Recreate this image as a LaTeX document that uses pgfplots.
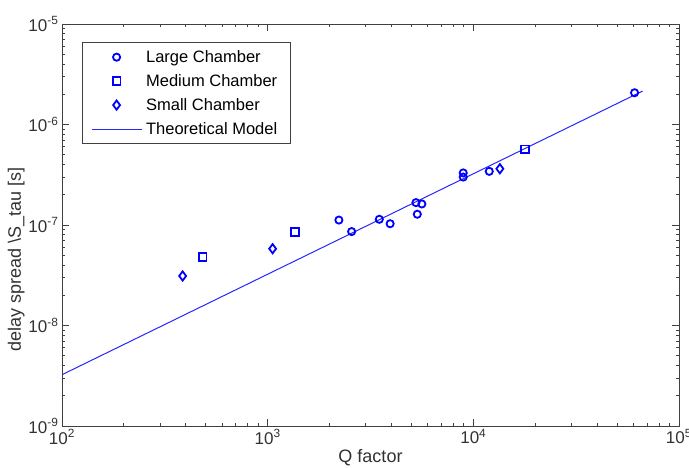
\documentclass[border=0pt]{standalone}
\usepackage{fontspec}
\setmainfont{Liberation Sans}
\usepackage{pgfplots}
\pgfplotsset{compat=1.18}
\definecolor{mblue}{RGB}{0,0,255}
\definecolor{axgray}{RGB}{64,64,64}
\definecolor{txtgray}{RGB}{50,50,50}
\begin{document}
\begin{tikzpicture}
\begin{loglogaxis}[
  scale only axis, width=617pt, height=402pt,
  xmin=100, xmax=100000, ymin=1e-9, ymax=1e-5,
  xtick={100,1000,10000,100000},
  xticklabels={10\textsuperscript{2},10\textsuperscript{3},10\textsuperscript{4},10\textsuperscript{5}},
  ytick={1e-9,1e-8,1e-7,1e-6,1e-5},
  yticklabels={10\textsuperscript{-9},10\textsuperscript{-8},10\textsuperscript{-7},10\textsuperscript{-6},10\textsuperscript{-5}},
  tick label style={font=\fontsize{17}{19}\selectfont, text=txtgray},
  major tick length=7pt,
  tick style={axgray, line width=1pt},
  axis line style={axgray, line width=0.8pt},
  xlabel={Q factor},
  ylabel={delay spread \textbackslash S\_tau [s]},
  label style={font=\fontsize{18}{20}\selectfont, text=txtgray},
  xlabel style={at={(axis description cs:0.5,-0.08)}, anchor=center},
  ylabel style={at={(axis description cs:-0.074,0.415)}, anchor=center},
  legend cell align=left,
  legend style={at={(0.032,0.955)}, anchor=north west, draw=axgray, line width=0.7pt,
    font=\fontsize{16.5}{18}\selectfont, row sep=6.5pt, inner xsep=9pt, inner ysep=6pt,
    nodes={inner xsep=4pt}},
  legend image code/.code={\draw[mark repeat=2,mark phase=2,#1] plot coordinates {(0pt,0pt) (25pt,0pt) (50pt,0pt)};},
]
% large chamber measurements
\addplot[only marks, mark=o, mark size=3.6pt, line width=1.8pt, mblue] coordinates {
  (2220,1.12e-7) (2560,8.6e-8) (3490,1.14e-7) (3940,1.03e-7)
  (5260,1.67e-7) (5620,1.62e-7) (5340,1.28e-7)
  (8930,3.3e-7) (8930,3.0e-7) (11950,3.42e-7) (60800,2.07e-6)
};
\addlegendentry{Large Chamber}
% medium chamber measurements
\addplot[only marks, mark=square, mark size=3.9pt, line width=1.8pt, mblue] coordinates {
  (483,4.78e-8) (1358,8.5e-8) (17820,5.66e-7)
};
\addlegendentry{Medium Chamber}
% small chamber measurements
\addplot[only marks, mark=diamond, mark size=4.6pt, line width=1.8pt, mblue] coordinates {
  (386,3.11e-8) (1057,5.81e-8) (13460,3.63e-7)
};
\addlegendentry{Small Chamber}
% model: delay spread proportional to Q
\addplot[mblue!85, line width=1pt, no marks] coordinates {
  (100,3.24e-9) (66500,2.15e-6)
};
\addlegendentry{Theoretical Model}
\end{loglogaxis}
\pgfresetboundingbox
\path[use as bounding box] (current axis.south west) ++(-62pt,-42pt) rectangle ++(689pt,468pt);
\end{tikzpicture}
\end{document}
